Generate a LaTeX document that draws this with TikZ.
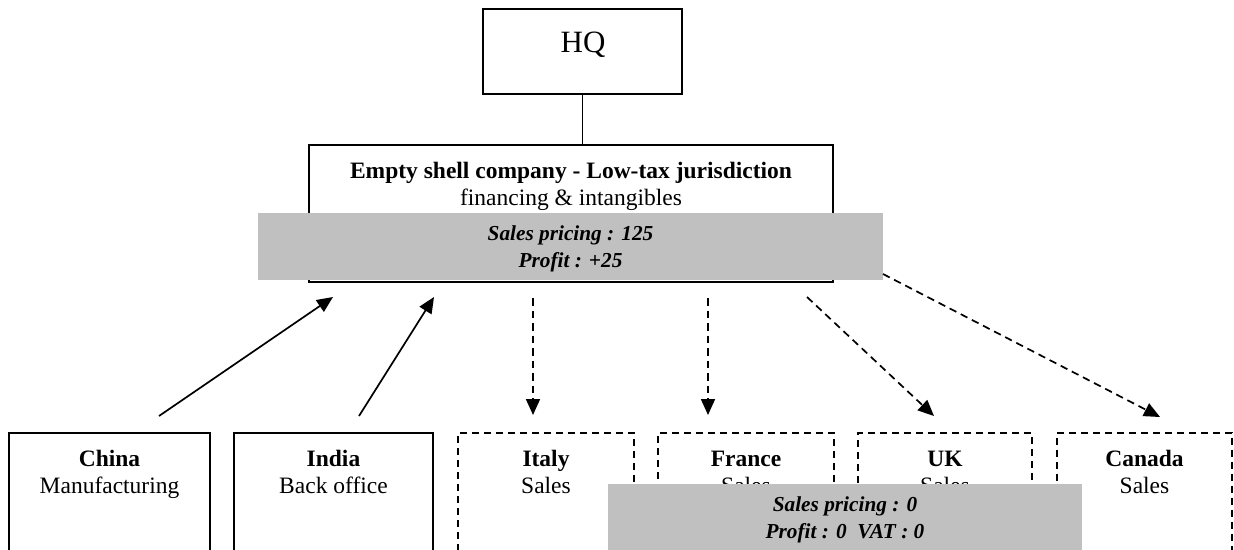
\documentclass[tikz,border=0pt]{standalone}
\usepackage{fontspec}
\setmainfont{Liberation Serif}
\usetikzlibrary{arrows.meta}
\definecolor{shade}{RGB}{192,192,192}
\begin{document}
\begin{tikzpicture}[x=1pt,y=-1pt,
  box/.style={draw, line width=1.7pt, inner sep=0pt},
  dbox/.style={box, dash pattern=on 7pt off 5pt},
  band/.style={fill=shade, draw=none, inner sep=0pt},
  lbl/.style={align=center, font=\fontsize{23.5}{27}\selectfont, anchor=base, inner sep=0pt},
  note/.style={align=center, font=\fontsize{21.3}{26.5}\selectfont\bfseries\itshape, anchor=base, inner sep=0pt},
  arr/.style={line width=1.7pt, -{Triangle[length=16pt,width=14pt]}},
  darr/.style={arr, dash pattern=on 7.5pt off 5pt},
]
\useasboundingbox (0,0) rectangle (1234,549);
\clip (0,0) rectangle (1234,549);

% HQ
\node[box, minimum width=199pt, minimum height=85pt] (hq) at (582.5,51.5) {};
\node[lbl, font=\fontsize{31}{36}\selectfont] (hqt) at (583,52) {HQ};

% shell company
\node[box, minimum width=524pt, minimum height=137pt] (shell) at (571,213.5) {};
\node[lbl] (shellt) at (571,205) {\textbf{Empty shell company - Low-tax jurisdiction}\\financing \& intangibles};
\node[band, minimum width=625pt, minimum height=67pt] (topband) at (570.5,246.5) {};
\node[note] (topbandt) at (570.5,267) {Sales pricing : 125\\Profit : +25};

\draw[line width=1.7pt] (hq.south) -- (hq.south |- shell.north);

% bottom boxes
\node[box,  minimum width=201pt, minimum height=137pt] (china)  at (109.5,501.5) {};
\node[box,  minimum width=199pt, minimum height=137pt] (india)  at (333.5,501.5) {};
\node[dbox, minimum width=176pt, minimum height=137pt] (italy)  at (546,501.5) {};
\node[dbox, minimum width=176pt, minimum height=137pt] (france) at (746,501.5) {};
\node[dbox, minimum width=174pt, minimum height=137pt] (uk)     at (945,501.5) {};
\node[dbox, minimum width=175pt, minimum height=137pt] (canada) at (1144.5,501.5) {};

\node[lbl] (chinat)  at (109.5,493) {\textbf{China}\\Manufacturing};
\node[lbl] (indiat)  at (333.5,493) {\textbf{India}\\Back office};
\node[lbl] (italyt)  at (546,493)   {\textbf{Italy}\\Sales};
\node[lbl] (francet) at (746,493)   {\textbf{France}\\Sales};
\node[lbl] (ukt)     at (945,493)   {\textbf{UK}\\Sales};
\node[lbl] (canadat) at (1144.5,493){\textbf{Canada}\\Sales};

\node[band, minimum width=474pt, minimum height=76pt] (botband) at (845,522) {};
\node[note] (botbandt) at (845,538) {Sales pricing : 0\\Profit : 0\ \ VAT : 0};

% connector ends
\coordinate (chinaTail) at (159,416);
\coordinate (chinaTip) at (333,297);
\coordinate (indiaTail) at (359,416);
\coordinate (indiaTip) at (434,297);
\coordinate (italyTail) at (533,298);
\coordinate (italyTip) at (533,415);
\coordinate (franceTail) at (708,298);
\coordinate (franceTip) at (708,415);
\coordinate (ukTail) at (807,297);
\coordinate (ukTip) at (934,416);
\coordinate (canadaTail) at (883,274);
\coordinate (canadaTip) at (1160,417);

\draw[arr] (chinaTail) -- (chinaTip);
\draw[arr] (indiaTail) -- (indiaTip);
\draw[darr] (italyTail) -- (italyTip);
\draw[darr] (franceTail) -- (franceTip);
\draw[darr] (ukTail) -- (ukTip);
\draw[darr] (canadaTail) -- (canadaTip);
\end{tikzpicture}
\end{document}
